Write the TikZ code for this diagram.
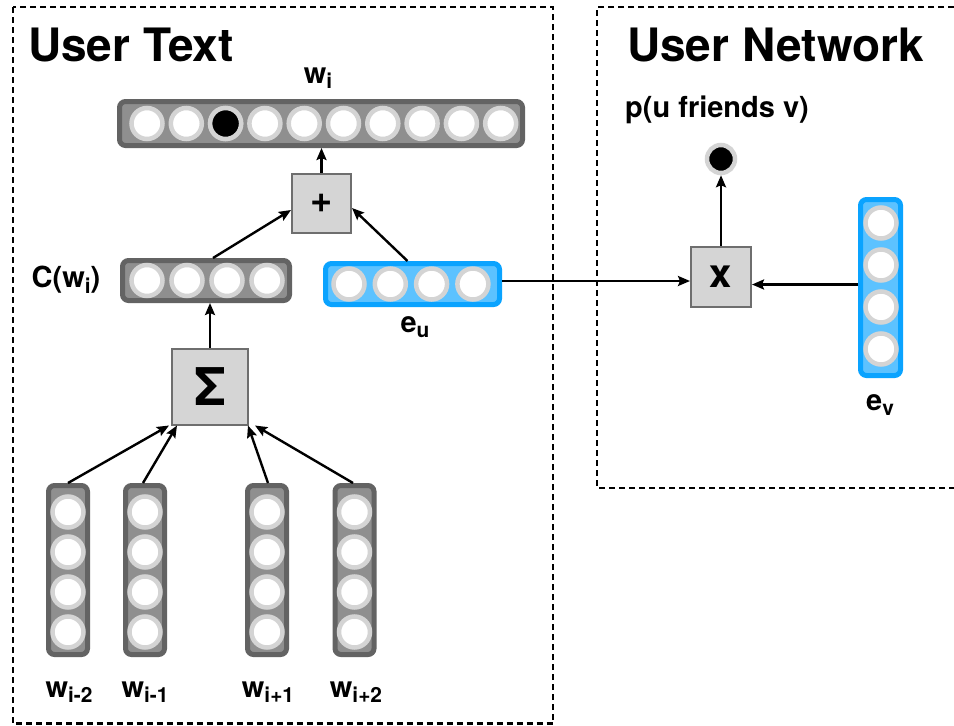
\documentclass[tikz,border=0pt]{standalone}
\usepackage{fontspec}
\setmainfont{TeX Gyre Heros}
\usetikzlibrary{arrows.meta}
\definecolor{vborder}{HTML}{636363}
\definecolor{vfill}{HTML}{8F8F8F}
\definecolor{ringc}{HTML}{D4D4D4}
\definecolor{bborder}{HTML}{0AA3FF}
\definecolor{bfill}{HTML}{5CC2FF}
\definecolor{boxfill}{HTML}{D5D5D5}
\definecolor{boxborder}{HTML}{6E6E6E}
\newcommand{\lsub}[1]{\raisebox{-0.35ex}{\scalebox{0.72}{#1}}}
\begin{document}
\begin{tikzpicture}[x=1pt,y=-1pt,
  vecg/.style={rectangle, rounded corners=6pt, draw=vborder, fill=vfill, line width=5pt, inner sep=0pt},
  vecb/.style={rectangle, rounded corners=6pt, draw=bborder, fill=bfill, line width=5pt, inner sep=0pt},
  cell/.style={circle, draw=ringc, fill=white, line width=4.5pt, minimum size=31pt, inner sep=0pt},
  opbox/.style={rectangle, draw=boxborder, fill=boxfill, line width=2pt, inner sep=0pt},
  lab/.style={font=\bfseries\fontsize{29}{31}\selectfont, inner sep=0pt},
  ttl/.style={font=\bfseries\fontsize{46}{50}\selectfont, inner sep=0pt, anchor=base west},
  arr/.style={-{Stealth[length=12pt,width=10pt,inset=2pt]}, line width=2.4pt},
  region/.style={dash pattern=on 6pt off 4pt, line width=2.6pt}]
\useasboundingbox (0,0) rectangle (954,726);

% regions
\draw[region] (13,7) rectangle (553,723.5);
\draw[region] (954,7) -- (597,7) -- (597,488) -- (954,488);
\node[ttl] (t1) at (28,61) {User Text};
\node[ttl] (t2) at (627,61) {User Network};

% top vector w_i
\node[vecg, minimum width=403pt, minimum height=44pt] (wi) at (321,123.5) {};
\foreach \k in {0,...,9} {
  \node[cell] (wi\k) at (147+39.3*\k,123.5) {};
}
\node[cell, fill=black] at (wi2) {};
\node[lab] (lwi) at (318,78) {w\lsub{i}};

% plus box
\node[opbox, minimum size=59pt, font=\bfseries\fontsize{38}{38}\selectfont] (plus) at (321.5,203) {+};

% C(w_i)
\node[vecg, minimum width=167pt, minimum height=40pt] (cw) at (206,280.5) {};
\foreach \k in {0,...,3} {
  \node[cell] (cw\k) at (147+40*\k,280.5) {};
}
\node[lab] (lcw) at (66,280) {C(w\lsub{i})};

% e_u
\node[vecb, minimum width=174pt, minimum height=41pt] (eu) at (412.5,284) {};
\foreach \k in {0,...,3} {
  \node[cell] (eu\k) at (349+41.3*\k,284) {};
}
\node[lab] (leu) at (415,327) {e\lsub{u}};

% sigma
\node[opbox, minimum size=76pt, font=\bfseries\fontsize{52}{52}\selectfont] (sig) at (210,386.5) {Σ};

% context word vectors
\foreach \n/\x in {wa/68, wb/145, wc/267, wd/354.5} {
  \node[vecg, minimum width=39pt, minimum height=169pt] (\n) at (\x,570) {};
  \foreach \k in {0,...,3} {
    \node[cell] (\n\k) at (\x,512+40*\k) {};
  }
}
\node[lab] (lwa) at (69,692) {w\lsub{i-2}};
\node[lab] (lwb) at (145,692) {w\lsub{i-1}};
\node[lab] (lwc) at (268,692) {w\lsub{i+1}};
\node[lab] (lwd) at (356,692) {w\lsub{i+2}};

% user network
\node[opbox, minimum size=60pt, font=\bfseries\fontsize{40}{40}\selectfont] (xb) at (721,276.5) {x};
\node[cell, fill=black, minimum size=28pt] (dot) at (721,159) {};
\node[lab, anchor=west] (lp) at (625,110) {p(u friends v)};
\node[vecb, minimum width=40pt, minimum height=176pt] (ev) at (880.5,287.5) {};
\foreach \k in {0,...,3} {
  \node[cell] (ev\k) at (881,223+42*\k) {};
}
\node[lab] (lev) at (880,405) {e\lsub{v}};

% connectors
\draw[arr] (wa.north) -- ([xshift=-2pt]sig.south west);
\draw[arr] ([xshift=-2pt]wb.north) -- ([xshift=6pt]sig.south west);
\draw[arr] ([xshift=1pt]wc.north) -- ([xshift=-1pt]sig.south east);
\draw[arr] ([xshift=-1.5pt]wd.north) -- ([xshift=6pt]sig.south east);
\draw[arr] (sig.north) -- (sig.north |- cw.south);
\draw[arr] ([xshift=7pt]cw.north) -- ([yshift=-7pt]plus.west);
\draw[arr] ([xshift=-5pt]eu.north) -- ([yshift=-5pt]plus.east);
\draw[arr] (plus.north) -- (plus.north |- wi.south);
\draw[arr] ([yshift=3pt]eu.east) -- ([yshift=3pt]eu.east -| xb.west);
\draw[arr] ([yshift=3pt]ev.west) -- ([yshift=3pt]ev.west -| xb.east);
\draw[arr] (xb.north) -- (dot.south);
\end{tikzpicture}
\end{document}
